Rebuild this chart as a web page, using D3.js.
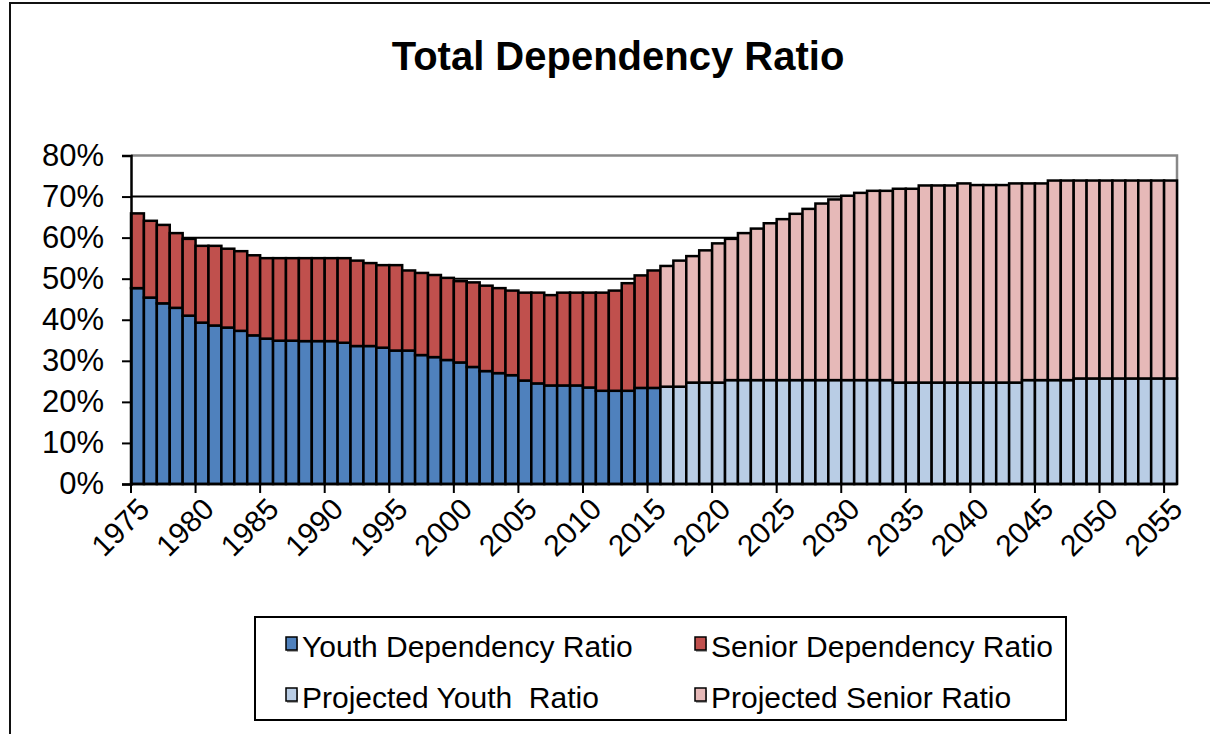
<!DOCTYPE html>
<html>
<head>
<meta charset="utf-8">
<script src="https://cdn.jsdelivr.net/npm/d3@7"></script>
<style>
  html, body { margin: 0; padding: 0; background: #fff; }
  svg { display: block; font-family: "Liberation Sans", Arial, sans-serif; }
  .leg text { white-space: pre; }
</style>
</head>
<body>
<svg id="chart" width="1210" height="734"></svg>
<script>
// ---- data ----
const histYears = d3.range(1975, 2016);   // 1975..2015
const projYears = d3.range(2016, 2056);   // 2016..2055

const youthHist = [47.7,45.4,44.0,42.9,41.0,39.3,38.6,38.1,37.3,36.2,
                   35.4,34.9,34.9,34.8,34.8,34.8,34.4,33.6,33.6,33.2,
                   32.5,32.5,31.4,30.9,30.2,29.6,28.5,27.5,27.0,26.5,
                   25.2,24.5,24.0,24.0,24.0,23.5,22.7,22.7,22.7,23.4,23.4];
const seniorHist = [18.2,18.7,19.1,18.2,18.7,18.7,19.4,19.2,19.4,19.5,
                    19.6,20.1,20.1,20.2,20.2,20.2,20.6,20.8,20.2,20.1,
                    20.8,19.5,20.0,20.0,20.0,19.8,20.6,20.8,20.7,20.6,
                    21.4,22.1,22.0,22.6,22.6,23.1,23.9,24.4,26.2,27.4,28.6];
const youthProj = [23.7,23.7,24.7,24.7,24.7,25.3,25.3,25.3,25.3,25.3,
                   25.3,25.3,25.3,25.3,25.3,25.3,25.3,25.3,24.7,24.7,
                   24.7,24.7,24.7,24.7,24.7,24.7,24.7,24.7,25.3,25.3,
                   25.3,25.3,25.7,25.7,25.7,25.7,25.7,25.7,25.7,25.7];
const seniorProj = [29.4,30.7,30.8,32.2,33.9,34.4,35.8,36.9,38.2,39.2,
                    40.5,41.7,43.0,44.0,44.9,45.6,46.1,46.1,47.2,47.2,
                    48.0,48.0,48.0,48.5,48.1,48.1,48.1,48.5,47.9,47.9,
                    48.6,48.6,48.2,48.2,48.2,48.2,48.2,48.2,48.2,48.2];

const xTickLabels = ["1975","1980","1985","1990","1995","2000","2005","2010","2015",
                     "2020","2025","2030","2035","2040","2045","2050","2055"];
const yTickValues = [0,10,20,30,40,50,60,70,80];
const seriesNames = ["Youth Dependency Ratio","Senior Dependency Ratio",
                     "Projected Youth  Ratio","Projected Senior Ratio"];
const seriesColors = ["#4F81BD","#C0504D","#B9CDE5","#E6B9B8"];

// ---- layout ----
const svg = d3.select("#chart");
const L = 131, R = 1177, T = 155.5, B = 484;
const x = d3.scaleLinear().domain([1975, 2056]).range([L, R]);
const y = d3.scaleLinear().domain([0, 80]).range([B, T]);
const bw = x(1976) - x(1975);

svg.append("rect").attr("width",1210).attr("height",734).attr("fill","#fff");
// outer chart border
svg.append("rect").attr("x",10).attr("y",3).attr("width",1240).attr("height",760)
  .attr("fill","none").attr("stroke","#111").attr("stroke-width",2);

// title
svg.append("text").attr("x",618).attr("y",70).attr("text-anchor","middle")
  .attr("font-size",40).attr("font-weight","bold")
  .text("Total Dependency Ratio");

// gridlines
svg.append("g").selectAll("line").data(yTickValues.filter(v => v > 0 && v < 80)).join("line")
  .attr("x1",L).attr("x2",R).attr("y1",d => y(d)).attr("y2",d => y(d))
  .attr("stroke","#000").attr("stroke-width",2);

// plot border (top & right) gray
svg.append("path").attr("d",`M${L},${T}H${R}V${B}`).attr("fill","none")
  .attr("stroke","#888").attr("stroke-width",2.5);

// bars
function stackRows(years, youth, senior, cY, cS) {
  return years.flatMap((yr, i) => [
    {yr, y0: 0, y1: youth[i], c: cY},
    {yr, y0: youth[i], y1: youth[i] + senior[i], c: cS}
  ]);
}
const rows = stackRows(histYears, youthHist, seniorHist, seriesColors[0], seriesColors[1])
  .concat(stackRows(projYears, youthProj, seniorProj, seriesColors[2], seriesColors[3]));

svg.append("g").selectAll("rect").data(rows).join("rect")
  .attr("x", d => x(d.yr)).attr("width", bw)
  .attr("y", d => y(d.y1)).attr("height", d => y(d.y0) - y(d.y1))
  .attr("fill", d => d.c).attr("stroke","#000").attr("stroke-width",2.5);

// y axis
const yAxis = svg.append("g").attr("transform",`translate(${L},0)`)
  .call(d3.axisLeft(y).tickValues(yTickValues).tickSize(9).tickPadding(18)
        .tickFormat(d => d + "%"));
yAxis.selectAll("line").attr("stroke","#000").attr("stroke-width",2);
yAxis.select(".domain").attr("stroke","#000").attr("stroke-width",2.5);
yAxis.selectAll("text").attr("font-size",31).attr("fill","#000")
  .attr("font-family","Liberation Sans, Arial, sans-serif");

// x axis
const xTickYears = xTickLabels.map(Number);
const xg = svg.append("g");
xg.append("line").attr("x1",L).attr("x2",R).attr("y1",B).attr("y2",B)
  .attr("stroke","#000").attr("stroke-width",2.5);
xg.selectAll("line.tk").data(xTickYears).join("line").attr("class","tk")
  .attr("x1", d => x(d)).attr("x2", d => x(d)).attr("y1", B).attr("y2", B + 9)
  .attr("stroke","#000").attr("stroke-width",2);
xg.selectAll("text").data(xTickLabels).join("text")
  .attr("transform", d => `translate(${x(+d) + bw/2 - 1},${B + 12}) rotate(-45)`)
  .attr("text-anchor","end").attr("dy","0.7em")
  .attr("font-size",30).text(d => d);

// legend
const lg = svg.append("g").attr("class","leg");
lg.append("rect").attr("x",255).attr("y",617).attr("width",811).attr("height",103)
  .attr("fill","#fff").attr("stroke","#000").attr("stroke-width",2);
const legPos = [[286,646],[695,646],[286,697],[695,697]];
seriesNames.forEach((n, i) => {
  const [lx, ly] = legPos[i];
  lg.append("rect").attr("x",lx+1).attr("y",ly-7).attr("width",11).attr("height",13)
    .attr("fill","#000").attr("opacity",0.35);
  lg.append("rect").attr("x",lx).attr("y",ly-9).attr("width",11).attr("height",13)
    .attr("fill",seriesColors[i]).attr("stroke","#000").attr("stroke-width",1.5);
  lg.append("text").attr("x",lx+16).attr("y",ly).attr("dy","0.35em")
    .attr("font-size",30).text(n);
});
</script>
</body>
</html>
